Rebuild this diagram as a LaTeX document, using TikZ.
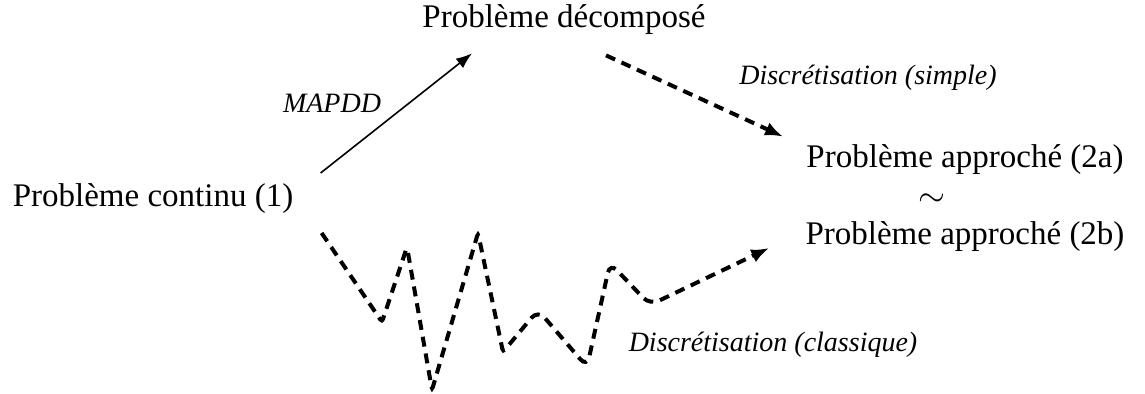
\documentclass[tikz,border=0pt]{standalone}
\usepackage{fontspec}
\setmainfont{Liberation Serif}
\usetikzlibrary{calc,arrows.meta}
\begin{document}
\begin{tikzpicture}[x=0.5pt,y=-0.5pt,
    pb/.style={inner sep=0pt,font=\fontsize{16.5}{18}\selectfont},
    lbl/.style={inner sep=0pt,font=\fontsize{14}{16}\selectfont\itshape},
    dasharrow/.style={line width=2pt,dash pattern=on 5pt off 3.5pt,-{Latex[length=9pt,width=7pt]}}]
    \useasboundingbox (0,0) rectangle (1145,394);
    \node [pb] (cont) at (153,199) {Problème continu (1)};
    \node [pb] (dec) at (564,20) {Problème décomposé};
    \node [pb] (pa) at (965,160) {Problème approché (2a)};
    \node [pb] (eq) at (932,200) {$\sim$};
    \node [pb] (pb) at (965,237) {Problème approché (2b)};
    \node [lbl] (mapdd) at (332,103) {MAPDD};
    \node [lbl] (simple) at (868,78) {Discrétisation (simple)};
    \node [lbl] (classique) at (773,345) {Discrétisation (classique)};
    % decomposition
    \draw [line width=0.8pt,-{Latex[length=8pt,width=6pt]}] ($(cont.east)+(27,-26)$) -- ($(dec.south west)+(50,18)$);
    % simple discretisation
    \draw [dasharrow] ($(dec.south east)+(-100,20)$) -- ($(pa.north west)+(-23,-8)$);
    % classical discretisation
    \draw [dasharrow,rounded corners=1.5pt] ($(cont.east)+(28,34)$) -- (382,322) -- (407,247) -- (432,390) -- (478,233) -- (503,352)
        [rounded corners=5pt] -- (538,310) -- (587,367) -- (610,263) -- (650,305) -- ($(pb.west)+(-36,11)$);
\end{tikzpicture}
\end{document}
